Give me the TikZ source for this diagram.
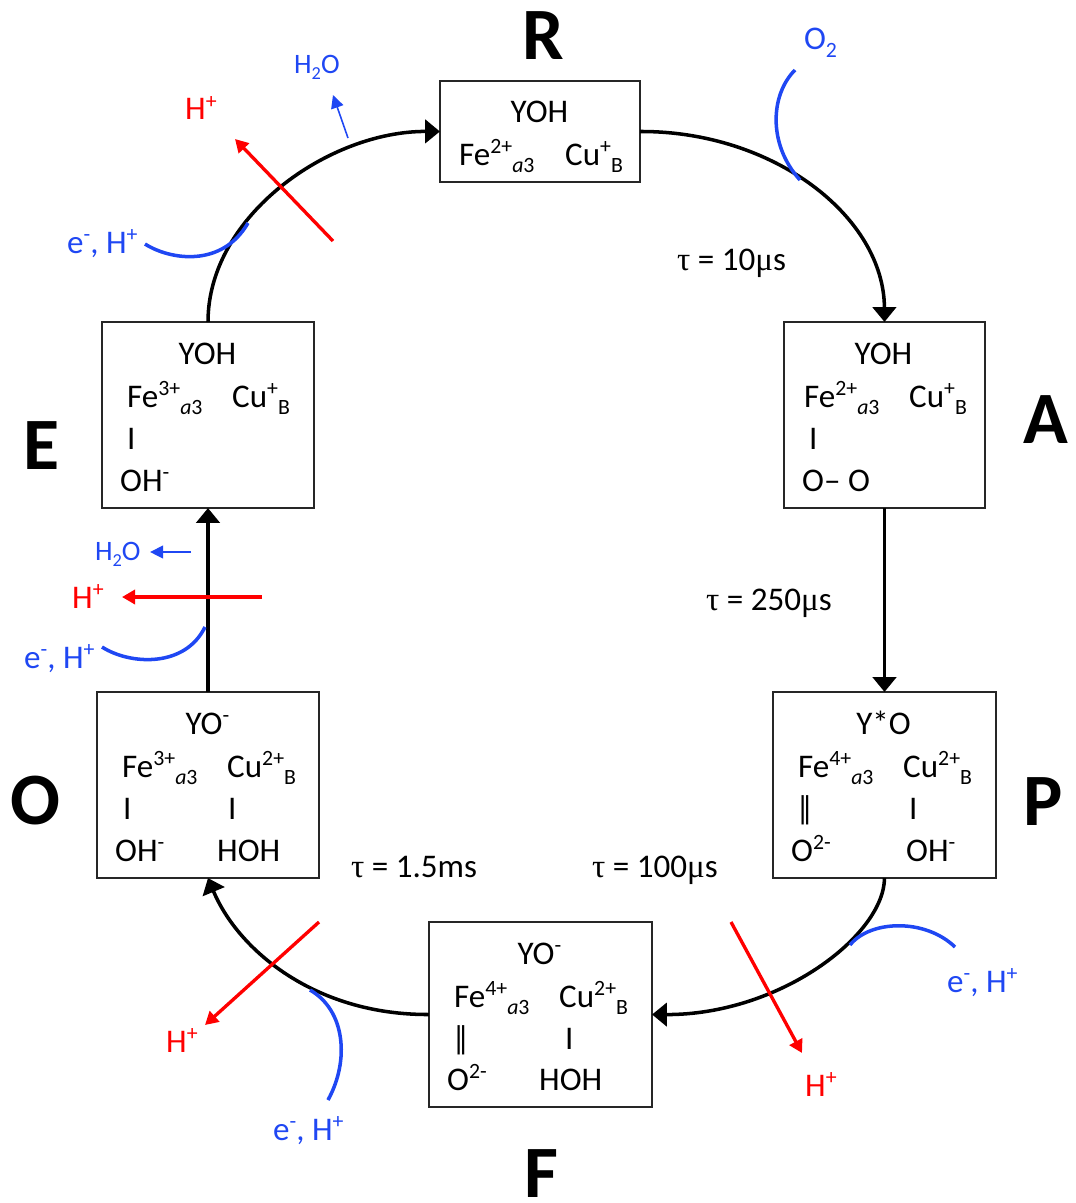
\documentclass[tikz,border=0pt]{standalone}
\usepackage{fontspec}
\setmainfont{Carlito}
\newfontfamily\greekfont{Liberation Serif}
\usetikzlibrary{
	arrows.meta
}
\definecolor{procblue}{RGB}{31,71,243}
\newcommand{\up}[1]{\raisebox{.34em}{\fontsize{6.2}{7}\selectfont #1}}
\newcommand{\dn}[1]{\raisebox{-.22em}{\fontsize{6.2}{7}\selectfont #1}}
\newcommand{\fea}[1]{Fe\up{#1}\dn{\textit{a}3}}
\newcommand{\cub}[1]{Cu\up{#1}\dn{B}}
\newcommand{\tauval}[1]{{\greekfont τ} = #1}
\newcommand{\mic}{{\greekfont μ}s}
\newcommand{\dbl}{|\kern-3.1pt|}
\newcommand{\ehplus}{e\up{-}, H\up{+}}
\newcommand{\water}{{\fontsize{8}{10}\selectfont H\raisebox{-.22em}{\fontsize{5.2}{6}\selectfont 2}O}}
\tikzset{
	statebox/.style={
		draw=black!85,
		line width=.45pt,
		inner sep=0pt,
		outer sep=0pt
	},
	boxline/.style={
		inner sep=0pt,
		font=\fontsize{9.4}{11}\selectfont,
		xshift=-.005cm,
		anchor=base west
	},
	boxtitle/.style={
		boxline,
		anchor=base
	},
	bigletter/.style={
		inner sep=0pt,
		font=\fontsize{21}{23}\selectfont\bfseries,
		anchor=base
	},
	cycle arrow/.style={
		line width=1pt,
		-{Triangle[length=4.2pt,width=6.6pt]}
	},
	red arrow/.style={
		red,
		line width=.95pt,
		-{Triangle[length=3.7pt,width=4pt]}
	},
	water arrow/.style={
		procblue,
		line width=.45pt,
		-{Triangle[length=3.7pt,width=3.6pt]}
	},
	blue curve/.style={
		procblue,
		line width=1pt
	},
	bluetext/.style={
		boxline,
		text=procblue
	},
	redtext/.style={
		boxline,
		text=red
	}
}
\begin{document}
\begin{tikzpicture}[x=.01cm,y=-.01cm]
		\useasboundingbox (0,0) rectangle (1075,1203);
		%%%%%%%% STATES
		\node[statebox,minimum width=2cm,minimum height=1.01cm] (R) at (540,131.5) {};
		\node[statebox,minimum width=2.01cm,minimum height=1.86cm] (A) at (884.5,415) {};
		\node[statebox,minimum width=2.23cm,minimum height=1.86cm] (P) at (884.5,785) {};
		\node[statebox,minimum width=2.23cm,minimum height=1.85cm] (F) at (540.5,1014.5) {};
		\node[statebox,minimum width=2.22cm,minimum height=1.86cm] (O) at (208,785) {};
		\node[statebox,minimum width=2.12cm,minimum height=1.86cm] (E) at (208,415) {};
		%%%%%%%% STATE R
		\node[boxtitle] (Rtop) at (540,122) {YOH};
		\node[boxline] (Rfe) at (459,165) {\fea{2+}};
		\node[boxline] (Rcu) at (565,165) {\cub{+}};
		%%%%%%%% STATE A
		\node[boxtitle] (Atop) at (884,364) {YOH};
		\node[boxline] (Afe) at (804,407) {\fea{2+}};
		\node[boxline] (Acu) at (909,407) {\cub{+}};
		\node[boxline] (Abond) at (809,449) {I};
		\node[boxline] (Aoo) at (802,491) {O– O};
		%%%%%%%% STATE P
		\node[boxtitle] (Ptop) at (884,734) {Y*O};
		\node[boxline] (Pfe) at (798,777) {\fea{4+}};
		\node[boxline] (Pcu) at (903,777) {\cub{2+}};
		\node[boxline] (Pbonda) at (795,819) {\dbl};
		\node[boxline] (Pbondb) at (909,819) {I};
		\node[boxline] (Po) at (791,861) {O\up{2-}};
		\node[boxline] (Poh) at (906,861) {OH\up{-}};
		%%%%%%%% STATE F
		\node[boxtitle] (Ftop) at (540,964) {YO\up{-}};
		\node[boxline] (Ffe) at (454,1007) {\fea{4+}};
		\node[boxline] (Fcu) at (559,1007) {\cub{2+}};
		\node[boxline] (Fbonda) at (451,1049) {\dbl};
		\node[boxline] (Fbondb) at (565,1049) {I};
		\node[boxline] (Fo) at (447,1090) {O\up{2-}};
		\node[boxline] (Fhoh) at (539,1090) {HOH};
		%%%%%%%% STATE O
		\node[boxtitle] (Otop) at (208,734) {YO\up{-}};
		\node[boxline] (Ofe) at (122,777) {\fea{3+}};
		\node[boxline] (Ocu) at (227,777) {\cub{2+}};
		\node[boxline] (Obonda) at (123,819) {I};
		\node[boxline] (Obondb) at (228,819) {I};
		\node[boxline] (Ooh) at (115,861) {OH\up{-}};
		\node[boxline] (Ohoh) at (217,861) {HOH};
		%%%%%%%% STATE E
		\node[boxtitle] (Etop) at (208,364) {YOH};
		\node[boxline] (Efe) at (127,407) {\fea{3+}};
		\node[boxline] (Ecu) at (232,407) {\cub{+}};
		\node[boxline] (Ebond) at (127,449) {I};
		\node[boxline] (Eoh) at (120,491) {OH\up{-}};
		%%%%%%%% BIG LETTERS
		\node[bigletter] (Rname) at (543,60) {R};
		\node[bigletter] (Aname) at (1046,443) {A};
		\node[bigletter] (Pname) at (1043,825) {P};
		\node[bigletter] (Fname) at (541,1197) {F};
		\node[bigletter] (Oname) at (35,824) {O};
		\node[bigletter] (Ename) at (42,469) {E};
		%%%%%%%% TIMES
		\node[boxline] (tauA) at (677,270) {\tauval{10\mic}};
		\node[boxline] (tauP) at (706,610) {\tauval{250\mic}};
		\node[boxline] (tauF) at (592,877) {\tauval{100\mic}};
		\node[boxline] (tauO) at (351,877) {\tauval{1.5ms}};
		%%%%%%%% CYCLE
		\draw[cycle arrow] (R.east) .. controls (774,131) and (884,217) .. (A.north);
		\draw[cycle arrow] (A.south) -- (P.north);
		\draw[cycle arrow] (P.south) .. controls (884,935) and (780,1015) .. (F.east);
		\draw[cycle arrow] (F.west) .. controls (315,1015) and (238,950) .. (O.south);
		\draw[cycle arrow] (O.north) -- (E.south);
		\draw[cycle arrow] (E.north) .. controls (208,215) and (330,131) .. (R.west);
		%%%%%%%% OXYGEN AND ELECTRONS
		\node[boxtitle,text=procblue] (otwo) at (821,50) {O\dn{2}};
		\node[bluetext] (eE) at (67,253) {\ehplus};
		\node[bluetext] (eO) at (24,668) {\ehplus};
		\node[bluetext] (eP) at (947,992) {\ehplus};
		\node[bluetext] (eF) at (273,1140) {\ehplus};
		\coordinate (otwoa) at (795,70);
		\coordinate (otwob) at (800,180);
		\coordinate (eEa) at (145,244);
		\coordinate (eEb) at (248,223);
		\coordinate (eOa) at (102,647);
		\coordinate (eOb) at (205,627);
		\coordinate (ePa) at (955,947);
		\coordinate (ePb) at (850,945);
		\coordinate (eFa) at (328,1100);
		\coordinate (eFb) at (310,990);
		\draw[blue curve] (otwoa) .. controls (770,95) and (768,145) .. (otwob);
		\draw[blue curve] (eEa) .. controls (170,260) and (222,268) .. (eEb);
		\draw[blue curve] (eOa) .. controls (130,665) and (185,668) .. (eOb);
		\draw[blue curve] (ePa) .. controls (925,918) and (870,920) .. (ePb);
		\draw[blue curve] (eFa) .. controls (350,1060) and (345,1010) .. (eFb);
		%%%%%%%% PROTONS
		\node[redtext] (hE) at (185,120) {H\up{+}};
		\node[redtext] (hO) at (72,608) {H\up{+}};
		\node[redtext] (hP) at (805,1096) {H\up{+}};
		\node[redtext] (hF) at (166,1052) {H\up{+}};
		\coordinate (hEa) at (333,241);
		\coordinate (hEb) at (235,139);
		\coordinate (hOa) at (262,597);
		\coordinate (hOb) at (122,597);
		\coordinate (hPa) at (731,922);
		\coordinate (hPb) at (802,1053);
		\coordinate (hFa) at (319,922);
		\coordinate (hFb) at (205,1025);
		\draw[red arrow] (hEa) -- (hEb);
		\draw[red arrow] (hOa) -- (hOb);
		\draw[red arrow] (hPa) -- (hPb);
		\draw[red arrow] (hFa) -- (hFb);
		%%%%%%%% WATER
		\node[bluetext] (wE) at (294,73) {\water};
		\node[bluetext] (wO) at (95,560) {\water};
		\coordinate (wEa) at (348,138);
		\coordinate (wEb) at (333,95);
		\coordinate (wOa) at (191,552);
		\coordinate (wOb) at (150,552);
		\draw[water arrow] (wEa) -- (wEb);
		\draw[water arrow] (wOa) -- (wOb);
	\end{tikzpicture}
\end{document}
